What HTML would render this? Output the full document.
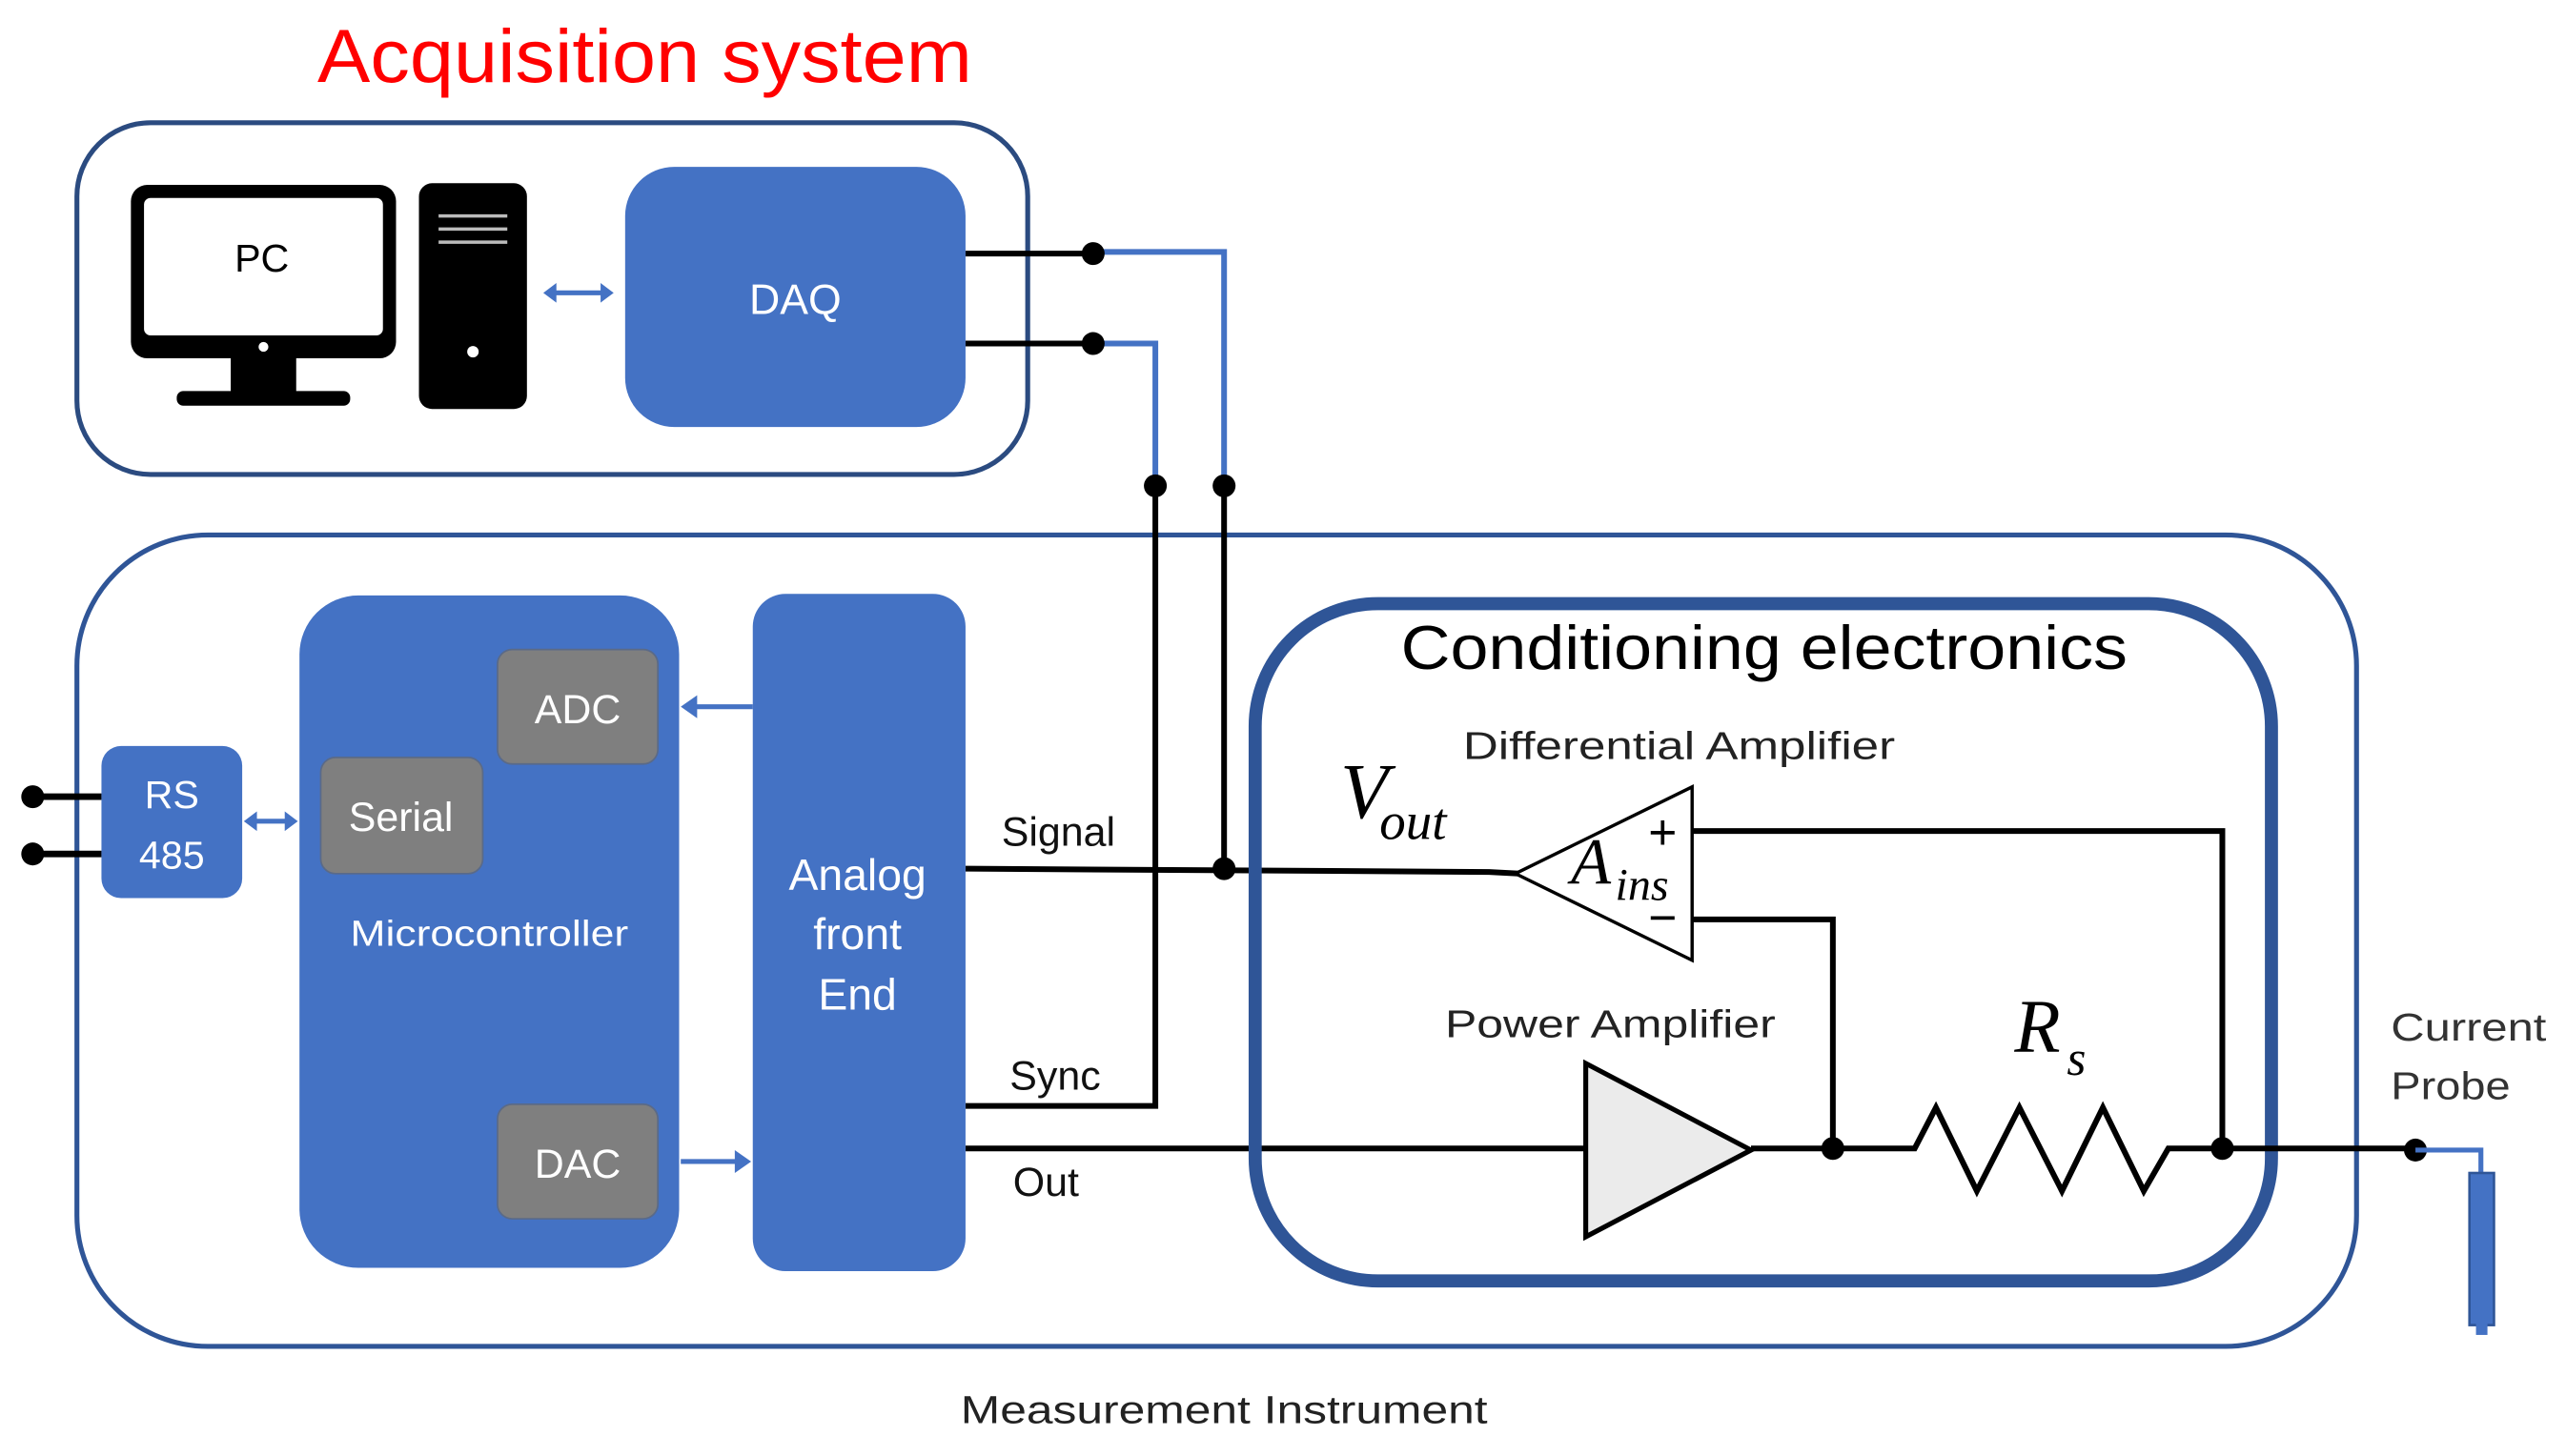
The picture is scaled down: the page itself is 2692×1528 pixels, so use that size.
<!DOCTYPE html>
<html><head><meta charset="utf-8"><style>
html,body{margin:0;padding:0;background:#fff;}
svg{display:block;}
text{font-family:"Liberation Sans",sans-serif;}
.s{font-family:"Liberation Serif",serif;font-style:italic;}
</style></head><body>
<svg width="2692" height="1528" viewBox="0 0 1568 890" xmlns="http://www.w3.org/2000/svg">
<rect width="1568" height="890" fill="#fff"/>
<text x="394" y="50" font-size="46" fill="#f00" text-anchor="middle" textLength="400" lengthAdjust="spacingAndGlyphs">Acquisition system</text>

<rect x="47" y="75" width="581" height="215" rx="45" fill="#fff" stroke="#2b4b80" stroke-width="3"/>
<rect x="80" y="113" width="162" height="106" rx="10" fill="#000"/>
<rect x="88" y="121" width="146" height="84" rx="4" fill="#fff"/>
<circle cx="161" cy="212" r="3" fill="#fff"/>
<rect x="141" y="219" width="40" height="22" fill="#000"/>
<rect x="108" y="239" width="106" height="9" rx="4" fill="#000"/>
<text x="160" y="166" font-size="24" text-anchor="middle">PC</text>
<rect x="256" y="112" width="66" height="138" rx="8" fill="#000"/>
<g stroke="#bbb" stroke-width="2"><line x1="268" y1="132" x2="310" y2="132"/><line x1="268" y1="140" x2="310" y2="140"/><line x1="268" y1="148" x2="310" y2="148"/></g>
<circle cx="289" cy="215" r="3.5" fill="#fff"/>
<line x1="338" y1="179" x2="369" y2="179" stroke="#4472c4" stroke-width="3"/>
<path d="M332 179 L340 173 L340 185Z M375 179 L367 173 L367 185Z" fill="#4472c4"/>
<rect x="382" y="102" width="208" height="159" rx="30" fill="#4472c4"/>
<text x="486" y="192" font-size="26" fill="#fff" text-anchor="middle">DAQ</text>

<rect x="47" y="327" width="1393" height="496" rx="80" fill="#fff" stroke="#2f5597" stroke-width="3"/>

<g fill="none" stroke-width="3.5">
<line x1="590" y1="155" x2="668" y2="155" stroke="#000"/>
<line x1="590" y1="210" x2="668" y2="210" stroke="#000"/>
<polyline points="668,154 748,154 748,297" stroke="#4472c4"/>
<polyline points="668,210 706,210 706,297" stroke="#4472c4"/>
<line x1="748" y1="297" x2="748" y2="531" stroke="#000"/>
<polyline points="706,297 706,676 590,676" stroke="#000"/>
<polyline points="590,531 910,533 928,534" stroke="#000"/>
<line x1="590" y1="702" x2="968" y2="702" stroke="#000"/>
</g>
<g fill="#000"><circle cx="668" cy="155" r="7"/><circle cx="668" cy="210" r="7"/><circle cx="748" cy="297" r="7"/><circle cx="706" cy="297" r="7"/><circle cx="748" cy="531" r="7"/></g>

<g stroke="#000" stroke-width="4"><line x1="20" y1="487" x2="62" y2="487"/><line x1="20" y1="522" x2="62" y2="522"/></g>
<circle cx="20" cy="487" r="7"/><circle cx="20" cy="522" r="7"/>
<rect x="62" y="456" width="86" height="93" rx="12" fill="#4472c4"/>
<text x="105" y="494" font-size="24" fill="#fff" text-anchor="middle">RS</text>
<text x="105" y="531" font-size="24" fill="#fff" text-anchor="middle">485</text>
<line x1="155" y1="502" x2="176" y2="502" stroke="#4472c4" stroke-width="3"/>
<path d="M149 502 L157 496 L157 508Z M182 502 L174 496 L174 508Z" fill="#4472c4"/>

<rect x="183" y="364" width="232" height="411" rx="36" fill="#4472c4"/>
<rect x="304" y="397" width="98" height="70" rx="9" fill="#7f7f7f" stroke="#5a6a88" stroke-width="1"/>
<text x="353" y="442" font-size="25" fill="#fff" text-anchor="middle">ADC</text>
<rect x="196" y="463" width="99" height="71" rx="9" fill="#7f7f7f" stroke="#5a6a88" stroke-width="1"/>
<text x="245" y="508" font-size="25" fill="#fff" text-anchor="middle">Serial</text>
<rect x="304" y="675" width="98" height="70" rx="9" fill="#7f7f7f" stroke="#5a6a88" stroke-width="1"/>
<text x="353" y="720" font-size="25" fill="#fff" text-anchor="middle">DAC</text>
<text x="299" y="578" font-size="22" fill="#fff" text-anchor="middle" textLength="170" lengthAdjust="spacingAndGlyphs">Microcontroller</text>
<line x1="424" y1="432" x2="460" y2="432" stroke="#4472c4" stroke-width="3"/>
<path d="M416 432 L426 425 L426 439Z" fill="#4472c4"/>
<line x1="416" y1="710" x2="450" y2="710" stroke="#4472c4" stroke-width="3"/>
<path d="M459 710 L449 703 L449 717Z" fill="#4472c4"/>

<rect x="460" y="363" width="130" height="414" rx="20" fill="#4472c4"/>
<g font-size="27" fill="#fff" text-anchor="middle"><text x="524" y="544">Analog</text><text x="524" y="580">front</text><text x="524" y="617">End</text></g>

<g font-size="25" fill="#111"><text x="612" y="517">Signal</text><text x="617" y="666">Sync</text><text x="619" y="731">Out</text></g>

<rect x="767" y="369" width="621" height="414" rx="75" fill="none" stroke="#2f5597" stroke-width="8"/>
<text x="1078" y="409" font-size="38" fill="#000" text-anchor="middle" textLength="444" lengthAdjust="spacingAndGlyphs">Conditioning electronics</text>
<text x="1026" y="464" font-size="24" fill="#222" text-anchor="middle" textLength="264" lengthAdjust="spacingAndGlyphs">Differential Amplifier</text>
<text x="984" y="634" font-size="24" fill="#222" text-anchor="middle" textLength="202" lengthAdjust="spacingAndGlyphs">Power Amplifier</text>

<g fill="none" stroke="#000" stroke-width="3.5">
<polyline points="1034,508 1358,508 1358,702"/>
<polyline points="1034,562 1120,562 1120,702"/>
<polyline points="1070,702 1170,702 1183,677 1208,728 1234,677 1260,728 1285,677 1310,728 1325,702 1476,702"/>
</g>
<polygon points="926,534 1034,481 1034,587" fill="#fff" stroke="#000" stroke-width="2"/>
<polygon points="969,650 969,756 1070,703" fill="#ebebeb" stroke="#000" stroke-width="3"/>
<text x="1016" y="519" font-size="30" text-anchor="middle">+</text>
<text x="1016" y="571" font-size="30" text-anchor="middle">−</text>
<text class="s" x="960" y="540" font-size="40">A</text>
<text class="s" x="987" y="550" font-size="28">ins</text>
<text class="s" x="819" y="500" font-size="48">V</text>
<text class="s" x="843" y="513" font-size="32">out</text>
<text class="s" x="1231" y="643" font-size="46">R</text>
<text class="s" x="1263" y="657" font-size="30">s</text>
<g fill="#000"><circle cx="1120" cy="702" r="7"/><circle cx="1358" cy="702" r="7"/><circle cx="1476" cy="703" r="7"/></g>

<polyline points="1476,703 1516,703 1516,718" fill="none" stroke="#4472c4" stroke-width="3"/>
<rect x="1509" y="717" width="15" height="93" fill="#4472c4" stroke="#2f5597" stroke-width="1.5"/>
<rect x="1513" y="809" width="7" height="7" fill="#4472c4"/>
<g font-size="24" fill="#333"><text x="1461" y="636" textLength="95" lengthAdjust="spacingAndGlyphs">Current</text><text x="1461" y="672" textLength="73" lengthAdjust="spacingAndGlyphs">Probe</text></g>
<text x="748" y="870" font-size="24" fill="#222" text-anchor="middle" textLength="322" lengthAdjust="spacingAndGlyphs">Measurement Instrument</text>
</svg>
</body></html>
